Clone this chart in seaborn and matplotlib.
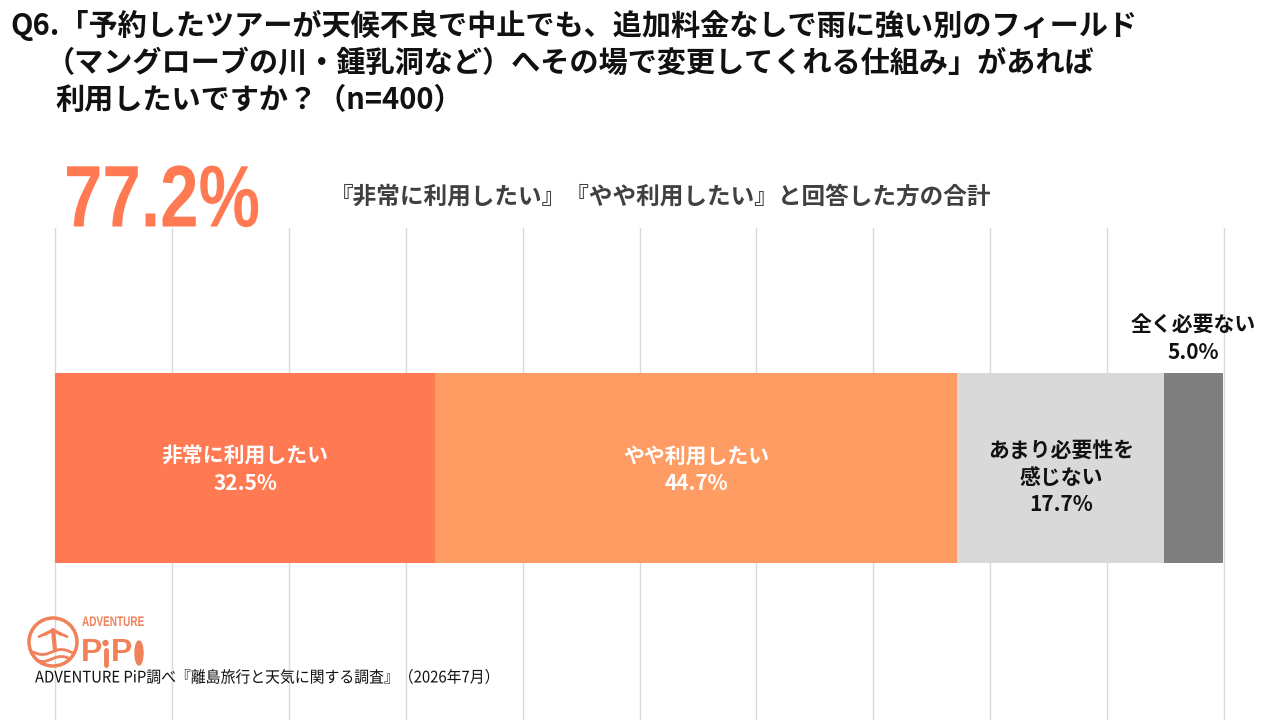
import numpy as np
import pandas as pd
import seaborn as sns
import matplotlib.pyplot as plt
from matplotlib.patches import Circle, Ellipse
from matplotlib.patheffects import AbstractPathEffect
from matplotlib.transforms import Affine2D

# données du graphique
categories = ['非常に利用したい', 'やや利用したい', 'あまり必要性を\n感じない', '全く必要ない']
values = [32.5, 44.7, 17.7, 5.0]
colors = ['#FF7A52', '#FF9C63', '#D9D9D9', '#7F7F7F']
label_colors = ['white', 'white', '#111111', '#111111']
top2_total = 77.2

title_lines = [
    'Q6.「予約したツアーが天候不良で中止でも、追加料金なしで雨に強い別のフィールド',
    '（マングローブの川・鍾乳洞など）へその場で変更してくれる仕組み」があれば',
    '利用したいですか？（n=400）',
]
subtitle = '『非常に利用したい』『やや利用したい』と回答した方の合計'
footer = 'ADVENTURE PiP調べ『離島旅行と天気に関する調査』（2026年7月）'


# texte condensé horizontalement (reste un vrai objet Text)
class Narrow(AbstractPathEffect):
    def __init__(self, sx):
        super().__init__()
        self.sx = sx

    def draw_path(self, renderer, gc, tpath, affine, rgbFace=None):
        renderer.draw_path(gc, tpath, Affine2D().scale(self.sx, 1) + affine, rgbFace)


sns.set_theme(style='white')
plt.rcParams['font.family'] = ['Noto Sans CJK JP', 'DejaVu Sans']

df = pd.DataFrame({'cat': categories, 'value': values})
df['cum'] = df['value'].cumsum()
df['start'] = df['cum'] - df['value']

fig = plt.figure(figsize=(12.8, 7.2), dpi=100)
ax = fig.add_axes([55 / 1280, 0, (1224 - 55) / 1280, (720 - 228) / 720])

# barres cumulées, de la plus longue à la plus courte -> empilement
for i in reversed(range(len(df))):
    sns.barplot(x=[df['cum'][i]], y=['Q6'], orient='h', color=colors[i],
                saturation=1, width=1.0, linewidth=0, ax=ax)

ax.set_xlim(0, 100)
ax.set_ylim(1.326, -1.263)
ax.set_xticks(np.arange(0, 101, 10))
ax.grid(axis='x', color='#D9D9D9', lw=1)
ax.set_axisbelow(True)
for gl in ax.get_xgridlines():
    gl.set_clip_on(False)
ax.tick_params(left=False, bottom=False, labelleft=False, labelbottom=False)
ax.set_xlabel('')
ax.set_ylabel('')
for s in ax.spines.values():
    s.set_visible(False)

# étiquettes
for i, row in df.iterrows():
    xc = row['start'] + row['value'] / 2
    txt = f"{row['cat']}\n{row['value']:.1f}%"
    if i < 3:
        yc = 0.05 if i == 2 else 0.01
        ax.text(xc, yc, txt, ha='center', va='center', color=label_colors[i],
                fontsize=15, fontweight='bold', linespacing=1.35)
    else:
        ax.text(xc, -0.68, txt, ha='center', va='center', color=label_colors[i],
                fontsize=15, fontweight='bold', linespacing=1.35, clip_on=False)

# textes et logo en coordonnées pixel
deco = fig.add_axes([0, 0, 1, 1])
deco.set_xlim(0, 1280)
deco.set_ylim(720, 0)
deco.axis('off')

deco.text(10, 25, title_lines[0], fontsize=21, fontweight='bold', va='center', color='#111111')
deco.text(46, 63, title_lines[1], fontsize=21, fontweight='bold', va='center', color='#111111')
deco.text(55, 100, title_lines[2], fontsize=21, fontweight='bold', va='center', color='#111111')

deco.text(64, 204, f'{top2_total:.1f}%', fontsize=63, color='#FF7A52',
          family=['Liberation Sans', 'DejaVu Sans'], fontweight='bold', va='center',
          path_effects=[Narrow(0.79)])
deco.text(330, 197, subtitle, fontsize=17, fontweight='bold', color='#404040', va='center')

deco.text(35, 678, footer, fontsize=11.5, va='center', color='#111111',
          path_effects=[Narrow(0.93)])

# logo
logo = '#F08159'
deco.add_patch(Circle((53, 642), 24, fill=False, ec=logo, lw=2.5))
wx = np.linspace(33, 73, 40)
deco.plot(wx, 652 + 2.5 * np.sin((wx - 33) / 6), color=logo, lw=2)
deco.plot(wx[4:-4], 659 + 2.5 * np.sin((wx[4:-4] - 33) / 6), color=logo, lw=2)
deco.plot([53, 55], [630, 650], color=logo, lw=3)
for dx in (-14, -8, 8, 14):
    deco.plot([53, 53 + dx], [630, 632 + abs(dx) / 3], color=logo, lw=2)
deco.text(82, 622, 'ADVENTURE', fontsize=10, color=logo, va='center', fontweight='bold',
          family=['Liberation Sans', 'DejaVu Sans'], path_effects=[Narrow(0.72)])
deco.text(81, 653, 'P', fontsize=23, color=logo, va='center', fontweight='bold',
          family=['Liberation Sans', 'DejaVu Sans'])
deco.text(111, 653, 'P', fontsize=23, color=logo, va='center', fontweight='bold',
          family=['Liberation Sans', 'DejaVu Sans'])
deco.plot([105.5, 105.5], [650, 665], color=logo, lw=3.5)
deco.add_patch(Circle((105.5, 643), 2.5, color=logo))
deco.add_patch(Ellipse((139, 653), 8, 24, color=logo))

fig.savefig('out.png', dpi=100)
